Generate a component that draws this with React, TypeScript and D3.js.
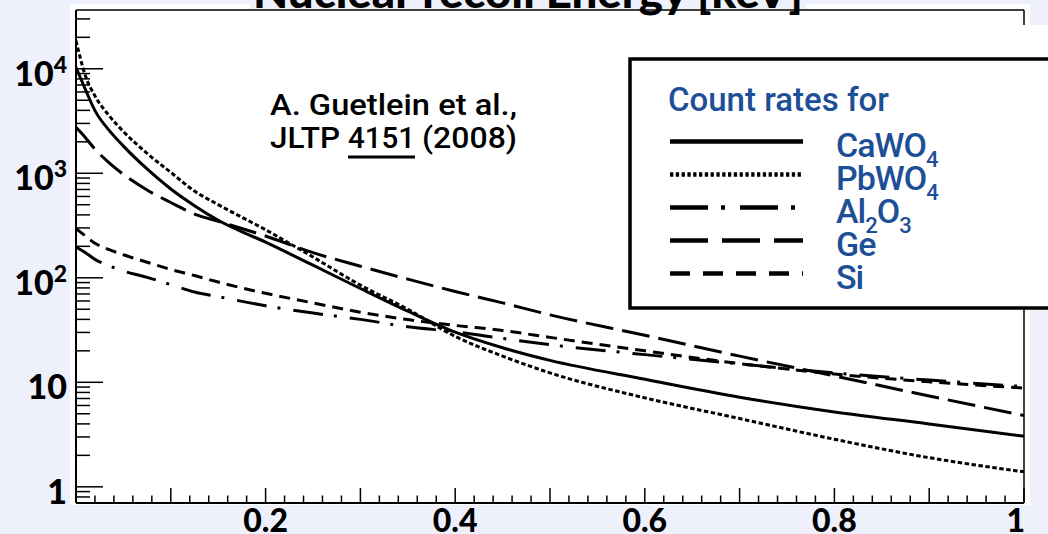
import React, { useRef, useEffect } from "react";
import * as d3 from "d3";

// nuclear recoil energy (normalised axis, 0..1)
const energy = [0, 0.01, 0.02, 0.035, 0.05, 0.075, 0.1, 0.125, 0.15, 0.2, 0.25, 0.3, 0.35, 0.4, 0.45, 0.5, 0.6, 0.7, 0.8, 0.9, 1.0];

// count rates
const caWO4 = [10350, 6310, 3980, 2570, 1820, 1100, 708, 490, 355, 219, 132, 79, 47.9, 30.2, 21.4, 16.2, 10.7, 7.2, 5.2, 4.0, 3.05];
const pbWO4 = [18600, 8510, 5500, 3550, 2510, 1550, 1020, 676, 501, 288, 158, 85, 50, 27.5, 17.8, 12.3, 7.1, 4.5, 2.85, 1.9, 1.39];
const al2O3 = [197, 174, 150, 130, 116, 101, 86, 73, 66, 54, 46, 40, 34, 30.5, 26.3, 22.9, 18.4, 15.0, 12.3, 10.5, 9.1];
const ge = [2750, 2190, 1700, 1260, 977, 692, 525, 407, 347, 251, 174, 129, 97, 74, 57.5, 44.2, 28.2, 17.8, 11.5, 7.4, 4.8];
const si = [295, 251, 214, 186, 166, 141, 120, 105, 91, 71, 57.5, 46.8, 39.8, 35, 31.3, 26.9, 20, 15.1, 12.0, 10.1, 8.8];

const seriesNames = ["CaWO_4", "PbWO_4", "Al_2O_3", "Ge", "Si"];
const seriesValues = [caWO4, pbWO4, al2O3, ge, si];

const xTickLabels = [0.2, 0.4, 0.6, 0.8, 1];
const yTickValues = [1, 10, 100, 1000, 10000];
const yLabelBase = ["1", "10", "10", "10", "10"];
const yLabelSup = ["", "", "2", "3", "4"];

const titleText = "Nuclear recoil Energy [keV]";
const legendTitle = "Count rates for";

const W = 1048;
const H = 534;
const BOLD = "Lato, 'Open Sans', sans-serif";
const NARROW = "'Liberation Sans Narrow', 'Arial Narrow', Roboto, sans-serif";
const BLUE = "#1d4f97";

// dash patterns for plot curves / legend lines
const plotDash = ["", "4.5,2.5", "30,11,3,13", "28,9", "11,7"];
const legendDash = ["", "3.3,2.5", "38,13,4,15", "38,14", "20,13"];

function App() {
  const ref = useRef<SVGSVGElement>(null);

  useEffect(() => {
    const svg = d3.select(ref.current);
    svg.selectAll("*").remove();

    const x = d3.scaleLinear().domain([0, 1]).range([76, 1024]);
    const y = d3.scaleLog().domain([0.7, 36500]).range([503, 10]);

    svg.append("rect").attr("width", W).attr("height", H).attr("fill", "#eef0fc");
    svg.append("rect").attr("x", 70).attr("y", 4).attr("width", 960).attr("height", 501).attr("fill", "white");

    svg
      .append("defs")
      .append("clipPath")
      .attr("id", "plotclip")
      .append("rect")
      .attr("x", x(0))
      .attr("y", y(36500))
      .attr("width", x(1) - x(0))
      .attr("height", y(0.7) - y(36500));

    // curves
    const line = d3
      .line<number>()
      .x((d, i) => x(energy[i]))
      .y((d) => y(d))
      .curve(d3.curveMonotoneX);

    const g = svg.append("g").attr("clip-path", "url(#plotclip)");
    seriesValues.forEach((vals, i) => {
      g.append("path")
        .attr("d", line(vals))
        .attr("fill", "none")
        .attr("stroke", "black")
        .attr("stroke-width", 3)
        .attr("stroke-dasharray", plotDash[i] || null);
    });

    // frame
    svg.append("line").attr("x1", x(0)).attr("x2", x(1)).attr("y1", y(36500)).attr("y2", y(36500)).attr("stroke", "black").attr("stroke-width", 1.5);
    svg.append("line").attr("x1", x(1)).attr("x2", x(1)).attr("y1", y(36500)).attr("y2", y(0.7)).attr("stroke", "black").attr("stroke-width", 1.5);
    svg.append("line").attr("x1", x(0)).attr("x2", x(0)).attr("y1", y(36500)).attr("y2", y(0.7)).attr("stroke", "black").attr("stroke-width", 2);
    svg.append("line").attr("x1", x(0)).attr("x2", x(1)).attr("y1", y(0.7)).attr("y2", y(0.7)).attr("stroke", "black").attr("stroke-width", 2);

    // y ticks (log, minor 2..9)
    const yTicks = y.ticks();
    svg
      .selectAll(".ytick")
      .data(yTicks)
      .enter()
      .append("line")
      .attr("class", "ytick")
      .attr("x1", x(0))
      .attr("x2", (d) => {
        const lg = Math.log10(d);
        return x(0) + (Math.abs(lg - Math.round(lg)) < 1e-6 ? 27 : 14);
      })
      .attr("y1", (d) => y(d))
      .attr("y2", (d) => y(d))
      .attr("stroke", "black")
      .attr("stroke-width", 1.5);

    // x ticks: every 0.02, major every 0.1
    const xTicks = d3.range(0, 51);
    svg
      .selectAll(".xtick")
      .data(xTicks)
      .enter()
      .append("line")
      .attr("class", "xtick")
      .attr("x1", (d) => x(d / 50))
      .attr("x2", (d) => x(d / 50))
      .attr("y1", y(0.7))
      .attr("y2", (d) => y(0.7) - (d % 5 === 0 ? 15 : 7.5))
      .attr("stroke", "black")
      .attr("stroke-width", 1.5);

    // x labels
    svg
      .selectAll(".xlabel")
      .data(xTickLabels)
      .enter()
      .append("text")
      .attr("class", "xlabel")
      .attr("x", (d) => (d === 1 ? x(d) + 1 : x(d)))
      .attr("y", 532)
      .attr("text-anchor", (d) => (d === 1 ? "end" : "middle"))
      .attr("font-family", BOLD)
      .attr("font-weight", 900)
      .attr("font-size", 32)
      .text((d) => String(d));

    // y labels
    const yl = svg
      .selectAll(".ylabel")
      .data(yTickValues)
      .enter()
      .append("text")
      .attr("class", "ylabel")
      .attr("x", 67)
      .attr("y", (d) => y(d) + 17)
      .attr("text-anchor", "end")
      .attr("font-family", BOLD)
      .attr("font-weight", 900)
      .attr("font-size", 34);
    yl.append("tspan").text((d, i) => yLabelBase[i]);
    yl.append("tspan")
      .attr("font-size", 23)
      .attr("dy", -13)
      .text((d, i) => yLabelSup[i]);

    // title, cut off at the top
    svg.append("rect").attr("x", 250).attr("y", 0).attr("width", 556).attr("height", 9).attr("fill", "#eef0fc");
    svg
      .append("text")
      .attr("x", 528)
      .attr("y", 8)
      .attr("text-anchor", "middle")
      .attr("font-family", BOLD)
      .attr("font-weight", 900)
      .attr("font-size", 44)
      .attr("textLength", 550)
      .attr("lengthAdjust", "spacingAndGlyphs")
      .text(titleText);

    // citation
    const cite = (t: string, x0: number, yb: number, len: number) =>
      svg
        .append("text")
        .attr("x", x0)
        .attr("y", yb)
        .attr("font-family", NARROW)
        .attr("font-weight", 500)
        .attr("font-size", 30)
        .attr("textLength", len)
        .attr("lengthAdjust", "spacingAndGlyphs")
        .text(t);
    cite("A. Guetlein et al.,", 270, 115, 247);
    cite("JLTP", 270, 148, 70);
    cite("4151", 348, 148, 67);
    cite("(2008)", 422, 148, 95);
    svg.append("line").attr("x1", 348).attr("x2", 415).attr("y1", 157).attr("y2", 157).attr("stroke", "black").attr("stroke-width", 3);

    // legend
    svg.append("rect").attr("x", 630).attr("y", 25).attr("width", 418).attr("height", 34).attr("fill", "white");
    svg
      .append("rect")
      .attr("x", 630)
      .attr("y", 59)
      .attr("width", 440)
      .attr("height", 249)
      .attr("fill", "white")
      .attr("stroke", "black")
      .attr("stroke-width", 3.5);
    svg
      .append("text")
      .attr("x", 668)
      .attr("y", 111)
      .attr("font-family", "Roboto, sans-serif")
      .attr("font-weight", 500)
      .attr("font-size", 33)
      .attr("fill", BLUE)
      .text(legendTitle);

    seriesNames.forEach((name, i) => {
      const ly = 141.5 + i * 33;
      svg
        .append("line")
        .attr("x1", 670)
        .attr("x2", 803)
        .attr("y1", ly)
        .attr("y2", ly)
        .attr("stroke", "black")
        .attr("stroke-width", 4.5)
        .attr("stroke-dasharray", legendDash[i] || null);
      const t = svg
        .append("text")
        .attr("x", 836)
        .attr("y", ly + 15)
        .attr("font-family", "Roboto, sans-serif")
        .attr("font-weight", 500)
        .attr("font-size", 34)
        .attr("letter-spacing", -1)
        .attr("fill", BLUE);
      // "_n" marks a subscript digit
      name.split(/(_\d)/).filter((s) => s !== "").forEach((part) => {
        if (part[0] === "_") {
          t.append("tspan").attr("font-size", 22).attr("dy", 10).text(part.slice(1));
        } else {
          const sp = t.append("tspan").text(part);
          if (t.selectAll("tspan").size() > 1) sp.attr("dy", -10);
        }
      });
    });
  }, []);

  return (
    <div style={{ position: "fixed", left: 0, top: 0 }}>
      <svg ref={ref} width={W} height={H} />
    </div>
  );
}

export default App;
